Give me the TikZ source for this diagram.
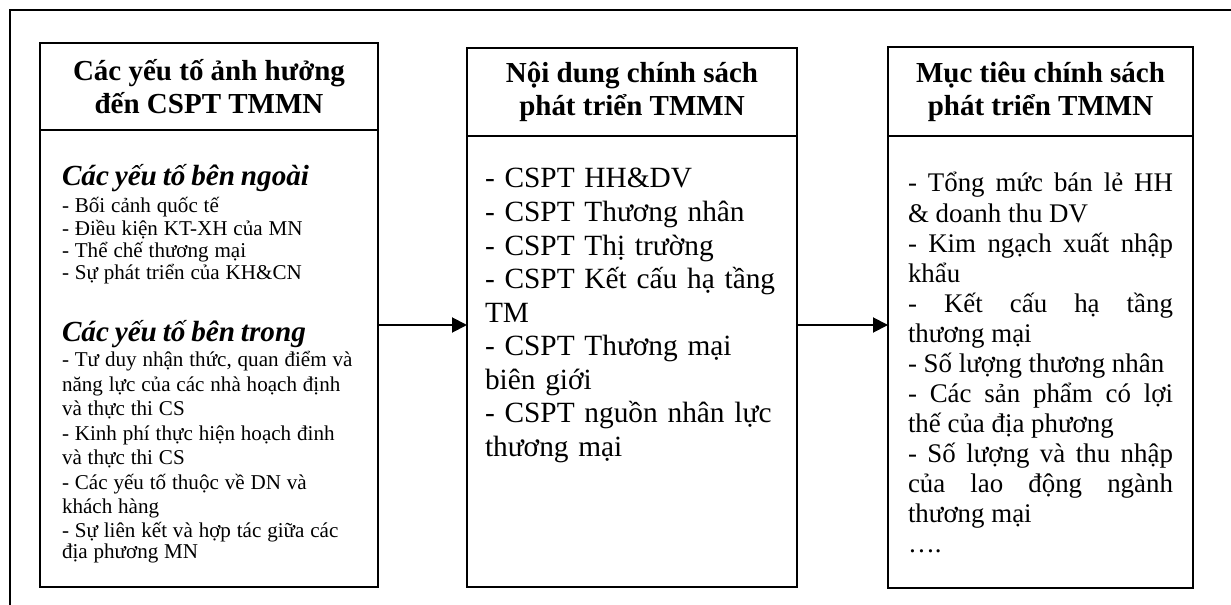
\documentclass[tikz,border=0pt]{standalone}
\usepackage{fontspec}
\setmainfont{Liberation Serif}
\usetikzlibrary{arrows.meta,positioning}
\setlength{\lineskiplimit}{-100pt}

% font sizes for the boxes
\newcommand{\headfont}{\fontsize{16.5pt}{18.8pt}\selectfont\bfseries}
\newcommand{\groupfont}{\fontsize{16.6pt}{19pt}\selectfont\bfseries\itshape}
\newcommand{\smallfont}{\fontsize{12pt}{12.7pt}\selectfont\mdseries\upshape}
\newcommand{\midfont}{\fontsize{12pt}{13.9pt}\selectfont\mdseries\upshape}

\begin{document}
\begin{tikzpicture}[
  head/.style={draw, line width=1.1pt, align=center, inner sep=0pt, outer sep=0pt, font=\headfont},
  body/.style={draw, line width=1.1pt, inner ysep=0pt, outer sep=0pt},
  >={Triangle[length=0.3cm,width=0.3cm]}
]
\useasboundingbox (0,0) rectangle (24.62,-12.1);
% outer frame, only top and left edges show
\draw[line width=1.1pt] (24.62,-0.2) -- (0.2,-0.2) -- (0.2,-12.1);

\node[head, anchor=north west, minimum width=6.76cm, minimum height=1.74cm] (factors) at (0.8,-0.86) {Các yếu tố ảnh hưởng\\đến CSPT TMMN};
\node[body, below=0pt of factors, text width=5.88cm, inner xsep=0.44cm, align=left, text height=1.1cm, text depth=8.04cm] (factorlist) {%
\groupfont Các yếu tố bên ngoài\\[3.2pt]
\smallfont - Bối cảnh quốc tế\\
- Điều kiện KT-XH của MN\\
- Thể chế thương mại\\
- Sự phát triển của KH\&CN\\[16.3pt]
\groupfont Các yếu tố bên trong\\[0.3pt]
\midfont - Tư duy nhận thức, quan điểm và\\
năng lực của các nhà hoạch định\\
và thực thi CS\\
- Kinh phí thực hiện hoạch đinh\\
và thực thi CS\\
- Các yếu tố thuộc về DN và\\
khách hàng\\
- Sự liên kết và hợp tác giữa các\\
địa phương MN};

\node[head, anchor=north west, minimum width=6.6cm, minimum height=1.76cm] (content) at (9.34,-0.96) {Nội dung chính sách\\phát triển TMMN};
\node[body, below=0pt of content, text width=5.88cm, inner xsep=0.36cm, align=left, text height=1.04cm, text depth=7.98cm, font=\fontsize{16.7pt}{19.1pt}\selectfont] (contentlist) {%
- CSPT HH\&DV\\
- CSPT Thương nhân\\
- CSPT Thị trường\\
- CSPT Kết cấu hạ tầng\\
TM\\
- CSPT Thương mại\\
biên giới\\
- CSPT nguồn nhân lực\\
thương mại};

\node[head, anchor=north west, minimum width=6.1cm, minimum height=1.78cm] (goals) at (17.76,-0.94) {Mục tiêu chính sách\\phát triển TMMN};
\node[body, below=0pt of goals, text width=5.3cm, inner xsep=0.4cm, align=justify, text height=1.12cm, text depth=7.92cm, font=\fontsize{15.3pt}{17.1pt}\selectfont] (goallist) {%
- Tổng mức bán lẻ HH\linebreak
\& doanh thu DV\par
- Kim ngạch xuất nhập\linebreak
khẩu\par
- Kết cấu hạ tầng\linebreak
thương mại\par
- Số lượng thương nhân\par
- Các sản phẩm có lợi\linebreak
thế của địa phương\par
- Số lượng và thu nhập\linebreak
của lao động ngành\linebreak
thương mại\par
….};

\coordinate (flow) at (0,-6.5);
\draw[->, line width=1.1pt] (factorlist.east |- flow) -- (contentlist.west |- flow);
\draw[->, line width=1.1pt] (contentlist.east |- flow) -- (goallist.west |- flow);
\end{tikzpicture}
\end{document}
